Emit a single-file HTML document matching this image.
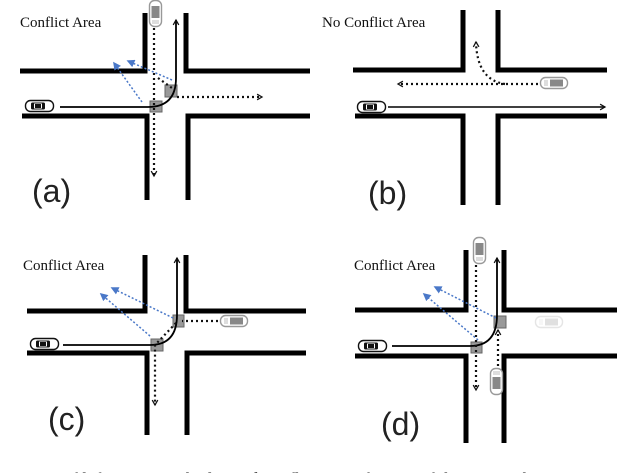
<!DOCTYPE html>
<html><head><meta charset="utf-8"><style>
html,body{margin:0;padding:0;background:#fff;width:640px;height:473px;overflow:hidden}
svg{display:block}
.serif{font-family:"Liberation Serif",serif;font-size:15px;fill:#111}
.lab{font-family:"Liberation Sans",sans-serif;font-size:32px;fill:#222}
</style></head><body>
<svg width="640" height="473" viewBox="0 0 640 473" xmlns="http://www.w3.org/2000/svg">
<defs>
<marker id="ah" viewBox="0 0 10 10" refX="8" refY="5" markerWidth="7" markerHeight="7" orient="auto-start-reverse" markerUnits="userSpaceOnUse">
<path d="M1,1 L8,5 L1,9" fill="none" stroke="#111" stroke-width="1.8"/></marker>
<marker id="bh" viewBox="0 0 10 10" refX="8" refY="5" markerWidth="8" markerHeight="8" orient="auto" markerUnits="userSpaceOnUse">
<path d="M0,0 L10,5 L0,10 z" fill="#4a78c8"/></marker>
<g id="carH"><rect x="0.5" y="0.5" width="28" height="11" rx="5" fill="#fff" stroke="#111" stroke-width="1.4"/><rect x="6" y="2.5" width="14" height="7" rx="1.5" fill="#111"/><rect x="9" y="3.5" width="8" height="5" fill="#fff"/><rect x="10" y="4" width="6" height="4" fill="#111"/></g>
<g id="carG"><rect x="0.5" y="0.5" width="27" height="11" rx="5" fill="#fff" stroke="#999" stroke-width="1.4"/><rect x="10" y="2.5" width="13" height="7" fill="#888"/><rect x="4" y="3" width="4" height="6" fill="#ddd"/></g>
<g id="carV"><rect x="0.5" y="0.5" width="12" height="26" rx="5" fill="#fff" stroke="#999" stroke-width="1.4"/><rect x="2.5" y="6" width="8" height="12" fill="#888"/><rect x="3" y="20" width="7" height="4" fill="#ddd"/></g>
</defs>

<g stroke="#000" stroke-width="5" fill="none">
<path d="M20,71 H145 V13"/><path d="M186,13 V71 H310"/>
<path d="M22,116 H147 V200"/><path d="M188,200 V116 H310"/>
<path d="M353,70 H463 V10"/><path d="M498,10 V70 H607"/>
<path d="M355,116 H463 V205"/><path d="M498,205 V116 H607"/>
<path d="M27,311 H145 V255"/><path d="M186,255 V311 H306"/>
<path d="M27,353 H147 V435"/><path d="M187,435 V353 H306"/>
<path d="M355,310 H466 V250"/><path d="M504,250 V310 H617"/>
<path d="M355,356 H466 V443"/><path d="M504,443 V356 H617"/>
</g>

<text class="serif" x="20" y="27">Conflict Area</text>
<text class="lab" x="32" y="202">(a)</text>
<use href="#carH" x="25" y="100"/>
<use href="#carV" x="149" y="0"/>
<rect x="150" y="101" width="12" height="11" fill="#999" stroke="#666"/>
<rect x="165" y="85" width="12" height="12" fill="#999" stroke="#666"/>
<g fill="none" stroke="#4a78c8" stroke-width="1.5" stroke-dasharray="2,2">
<path d="M142,102 L114,63" marker-end="url(#bh)"/><path d="M172,80 L128,61" marker-end="url(#bh)"/></g>
<path d="M60,107 H148 Q176,107 176,78 V20" fill="none" stroke="#000" stroke-width="1.8" marker-end="url(#ah)"/>
<g fill="none" stroke="#111" stroke-width="2.2" stroke-dasharray="2,3">
<path d="M154,28 V176" marker-end="url(#ah)"/><path d="M177,97 H262" marker-end="url(#ah)"/>
<path d="M158,78 L172,88"/></g>

<text class="serif" x="322" y="27">No Conflict Area</text>
<text class="lab" x="368" y="204">(b)</text>
<use href="#carH" x="357" y="101"/>
<use href="#carG" x="540" y="77"/>
<path d="M388,107 H605" fill="none" stroke="#000" stroke-width="1.5" marker-end="url(#ah)"/>
<g fill="none" stroke="#111" stroke-width="2.2" stroke-dasharray="2,3">
<path d="M538,84 H398" marker-end="url(#ah)"/>
<path d="M505,84 Q477,80 476,42" marker-end="url(#ah)"/></g>

<text class="serif" x="23" y="270">Conflict Area</text>
<text class="lab" x="48" y="430">(c)</text>
<use href="#carH" x="30" y="338"/>
<use href="#carG" x="220" y="315"/>
<rect x="151" y="339" width="12" height="12" fill="#999" stroke="#666"/>
<rect x="173" y="315" width="11" height="12" fill="#999" stroke="#666"/>
<g fill="none" stroke="#4a78c8" stroke-width="1.5" stroke-dasharray="2,2">
<path d="M150,336 L101,294" marker-end="url(#bh)"/><path d="M173,318 L112,288" marker-end="url(#bh)"/></g>
<path d="M63,345 H150 Q177,345 177,315 V258" fill="none" stroke="#000" stroke-width="1.8" marker-end="url(#ah)"/>
<g fill="none" stroke="#111" stroke-width="2.2" stroke-dasharray="2,3">
<path d="M218,321 H182"/><path d="M176,323 L155,345 V405" marker-end="url(#ah)"/></g>

<text class="serif" x="354" y="270">Conflict Area</text>
<text class="lab" x="381" y="435">(d)</text>
<use href="#carH" x="358" y="340"/>
<use href="#carV" x="473" y="237"/>
<use href="#carV" x="490" y="368" transform="rotate(180 496.5 381.5)"/>
<g opacity="0.25"><use href="#carG" x="535" y="316"/></g>
<rect x="471" y="342" width="11" height="11" fill="#999" stroke="#666"/>
<rect x="494" y="316" width="12" height="12" fill="#999" stroke="#666"/>
<g fill="none" stroke="#4a78c8" stroke-width="1.5" stroke-dasharray="2,2">
<path d="M478,340 L424,294" marker-end="url(#bh)"/><path d="M496,318 L435,287" marker-end="url(#bh)"/></g>
<path d="M392,346 H470 Q497,346 497,315 V258" fill="none" stroke="#000" stroke-width="1.8" marker-end="url(#ah)"/>
<g fill="none" stroke="#111" stroke-width="2.2" stroke-dasharray="2,3">
<path d="M476,265 V390" marker-end="url(#ah)"/><path d="M498,366 V330" marker-end="url(#ah)"/></g>

<text x="-2" y="485" style="font-family:'Liberation Serif',serif;font-size:18px;fill:#111">1. Types of left-turning vehicles and conflict areas for one of the approaches at an</text>
</svg>
</body></html>
